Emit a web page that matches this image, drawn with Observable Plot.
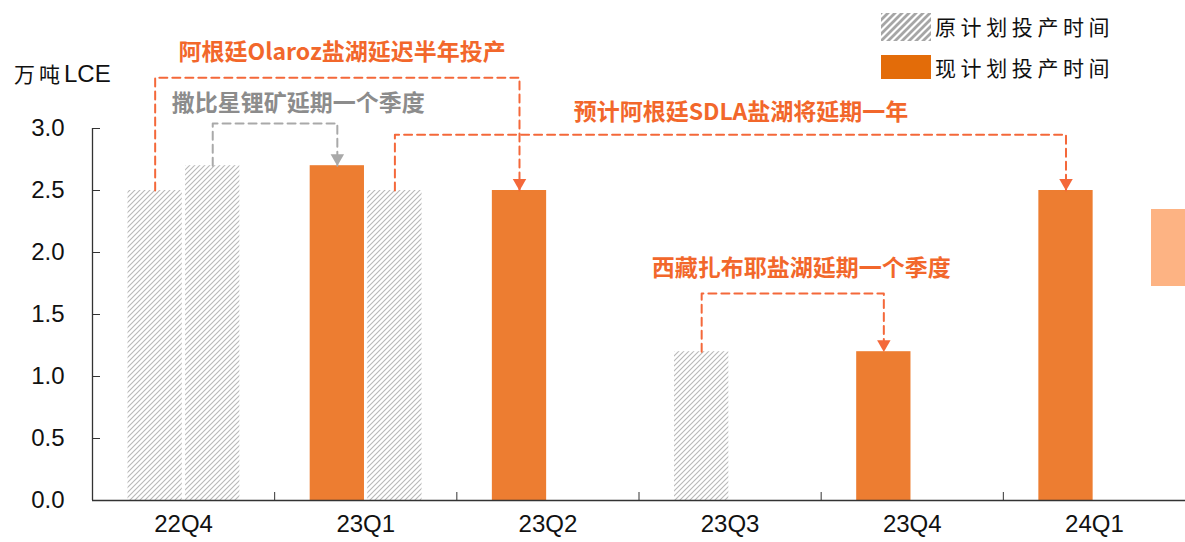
<!DOCTYPE html>
<html><head><meta charset="utf-8">
<script src="https://cdn.jsdelivr.net/npm/d3@7"></script>
<script src="https://cdn.jsdelivr.net/npm/@observablehq/plot@0.6"></script>
<style>
body{margin:0;background:#fff;}
#wrap{position:relative;width:1185px;height:542px;overflow:hidden;}
#wrap svg.chart{position:absolute;left:0;top:0;}
.leg-sw{position:absolute;left:881px;width:50px;}
.leg-tx{position:absolute;left:935px;font-family:"Noto Sans CJK SC",sans-serif;font-size:21px;letter-spacing:4.6px;color:#111;line-height:1;white-space:nowrap;}
.unit{position:absolute;left:14px;top:62px;font-size:21px;line-height:1;white-space:nowrap;color:#111;}
.unit .cn{font-family:"Noto Sans CJK SC",sans-serif;letter-spacing:4px;}
.unit .en{font-family:"Liberation Sans",Arial,sans-serif;font-size:24px;}
.sidebox{position:absolute;left:1151px;top:209px;width:34px;height:77px;background:#FDB383;}
</style></head><body>
<svg width="0" height="0" style="position:absolute">
<defs>
<pattern id="hatch" patternUnits="userSpaceOnUse" width="5" height="5">
 <rect width="5" height="5" fill="#fff"/>
 <path d="M-1,1 L1,-1 M0,5 L5,0 M4,6 L6,4" stroke="#b8b8b8" stroke-width="1.1"/>
</pattern>
<pattern id="hatchLegend" patternUnits="userSpaceOnUse" width="7" height="7">
 <rect width="7" height="7" fill="#fff"/>
 <path d="M-1,1 L1,-1 M0,7 L7,0 M6,8 L8,6" stroke="#a6a6a6" stroke-width="2.8"/>
</pattern>
</defs></svg>
<div id="wrap">
  <svg class="leg-sw" style="top:13px" width="50" height="28"><rect width="50" height="28" fill="url(#hatchLegend)"/></svg>
  <div class="leg-tx" style="top:16px">原计划投产时间</div>
  <div class="leg-sw" style="top:55px;height:24px;background:#E36C09"></div>
  <div class="leg-tx" style="top:57px">现计划投产时间</div>
  <div class="unit"><span class="cn">万吨</span><span class="en">LCE</span></div>
  <div class="sidebox"></div>
</div>
<script>
// ---- data ----
const categories = ["22Q4", "23Q1", "23Q2", "23Q3", "23Q4", "24Q1"];
const seriesNames = ["原计划投产时间", "现计划投产时间"];
const barQuarter = ["22Q4", "22Q4", "23Q1", "23Q1", "23Q2", "23Q3", "23Q4", "24Q1"];
const barSlot    = [0, 1, 0, 1, 0, 0, 0, 0];
const barValue   = [2.5, 2.7, 2.7, 2.5, 2.5, 1.2, 1.2, 2.5];
const barSeries  = [0, 0, 1, 0, 1, 0, 1, 1];
const yTicks = [0, 0.5, 1.0, 1.5, 2.0, 2.5, 3.0];

// annotations: from (original) bar -> to (current) bar
const annText   = ["阿根廷Olaroz盐湖延迟半年投产", "撒比星锂矿延期一个季度", "预计阿根廷SDLA盐湖将延期一年", "西藏扎布耶盐湖延期一个季度"];
const annFrom   = [0, 1, 3, 5];
const annTo     = [4, 2, 7, 6];
const annLevel  = [3.41, 3.04, 2.95, 1.67];
const annLabelX = [0.87, 0.63, 3.06, 3.39];
const annLabelY = [3.61, 3.20, 3.13, 1.87];
const annKind   = ["盐湖", "锂矿", "盐湖", "盐湖"];

// ---- layout helpers ----
const SLOT_X1 = [-0.305, 0.011], BAR_W = 0.298;
const bars = barQuarter.map((q, i) => {
  const idx = categories.indexOf(q);
  const x1 = idx + SLOT_X1[barSlot[i]];
  return {q, idx, x1, x2: x1 + BAR_W, xc: x1 + BAR_W / 2, value: barValue[i], series: seriesNames[barSeries[i]]};
});
const lines = [], arrows = [], labels = [];
annText.forEach((t, k) => {
  const a = bars[annFrom[k]], b = bars[annTo[k]];
  [[a.xc, a.value], [a.xc, annLevel[k]], [b.xc, annLevel[k]], [b.xc, b.value]]
    .forEach(([x, y]) => lines.push({id: k, kind: annKind[k], x, y}));
  arrows.push({kind: annKind[k], x: b.xc, y: b.value});
  labels.push({kind: annKind[k], x: annLabelX[k], y: annLabelY[k], text: t});
});
const ORANGE_LINE = "#F4683A", ORANGE_TEXT = "#F2672B", GREY_LINE = "#A9A9A9", GREY_TEXT = "#8C8C8C";
const isSalt = d => d.kind === "盐湖";
const isMine = d => d.kind !== "盐湖";

const chart = Plot.plot({
  width: 1185, height: 542,
  marginLeft: 92, marginRight: 0, marginTop: 128, marginBottom: 42,
  x: {type: "linear", domain: [-0.5, categories.length - 0.5], axis: null},
  y: {domain: [0, 3], axis: null},
  style: {fontFamily: "'Liberation Sans', Arial, sans-serif", fontSize: "24px", color: "#111", background: "transparent", overflow: "visible"},
  marks: [
    Plot.rectY(bars.filter(d => d.series === seriesNames[0]), {x1: "x1", x2: "x2", y: "value", fill: "url(#hatch)"}),
    Plot.rectY(bars.filter(d => d.series === seriesNames[1]), {x1: "x1", x2: "x2", y: "value", fill: "#ED7D31"}),
    Plot.line(lines.filter(isSalt), {x: "x", y: "y", z: "id", stroke: ORANGE_LINE, strokeWidth: 2, strokeDasharray: "8,5"}),
    Plot.line(lines.filter(isMine), {x: "x", y: "y", z: "id", stroke: GREY_LINE, strokeWidth: 2, strokeDasharray: "8,5"}),
    Plot.dot(arrows.filter(isSalt), {x: "x", y: "y", symbol: "triangle", r: 5, rotate: 180, dy: -7.5, fill: ORANGE_LINE, stroke: null}),
    Plot.dot(arrows.filter(isMine), {x: "x", y: "y", symbol: "triangle", r: 5, rotate: 180, dy: -7.5, fill: GREY_LINE, stroke: null}),
    Plot.text(labels.filter(isSalt), {x: "x", y: "y", text: "text", fill: ORANGE_TEXT, fontSize: 23, fontWeight: "bold", fontFamily: "'Noto Sans CJK SC', sans-serif"}),
    Plot.text(labels.filter(isMine), {x: "x", y: "y", text: "text", fill: GREY_TEXT, fontSize: 23, fontWeight: "bold", fontFamily: "'Noto Sans CJK SC', sans-serif", ariaLabel: "mine-label"}),
    Plot.ruleY([0], {stroke: "#333", strokeWidth: 1.3}),
    Plot.ruleX([-0.5], {stroke: "#333", strokeWidth: 1.3}),
    Plot.axisY(yTicks, {tickSize: -8, tickPadding: 36, tickFormat: d => d.toFixed(1), stroke: "#333", fill: "#111", fontSize: 24, label: null}),
    Plot.axisX(d3.range(0.5, categories.length - 0.5, 1), {tickSize: -8, tickFormat: () => "", stroke: "#333", label: null}),
    Plot.axisX(d3.range(categories.length), {tickSize: 0, tickPadding: 14, tickFormat: i => categories[i], fill: "#111", fontSize: 24, label: null})
  ]
});
chart.classList.add("chart");
d3.select(chart).selectAll('g[aria-label="mine-label"] text').style("letter-spacing", "2.6px");
document.getElementById("wrap").prepend(chart);
</script>
</body></html>
